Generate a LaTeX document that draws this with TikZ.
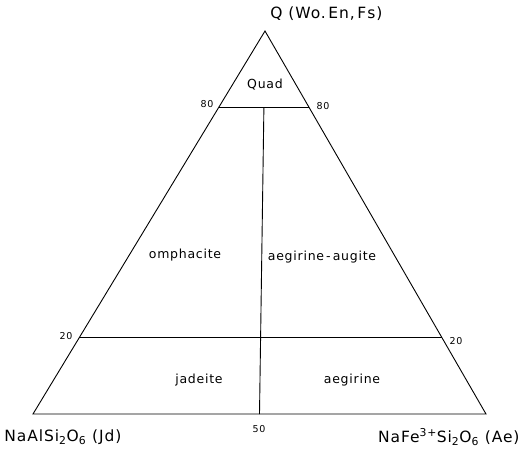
\documentclass[tikz,border=0pt]{standalone}
\usepackage{fontspec}
\setmainfont{DejaVu Sans}[LetterSpace=6]
\usetikzlibrary{calc}

\begin{document}
\begin{tikzpicture}[
x=1pt,y=-1pt,
every node/.style={
inner sep=0pt,
font=\fontsize{12.5}{14}\selectfont
},
endmember/.style={
font=\fontsize{15.5}{17}\selectfont
},
tick/.style={
font=\fontsize{9.5}{11}\selectfont
},
line width=0.9pt
]
\useasboundingbox (0,0) rectangle (523,451);

% corners of the triangle
\coordinate (Q) at (265,31);
\coordinate (Jd) at (33,414);
\coordinate (Ae) at (486,414);

% 80 and 20 lines, 50 on the base
\coordinate (L80) at ($(Jd)!0.8!(Q)$);
\coordinate (R80) at ($(Ae)!0.8!(Q)$);
\coordinate (L20) at ($(Jd)!0.2!(Q)$);
\coordinate (R20) at ($(Ae)!0.2!(Q)$);
\coordinate (B50) at ($(Jd)!0.5!(Ae)$);
\coordinate (T50) at ($(L80)!0.5!(R80)$);

\draw[line join=miter] (Q) -- (Jd) -- (Ae) -- cycle;
\draw (L80) -- (R80);
\draw (L20) -- (R20);
\draw (B50) -- (T50);

\node[endmember,anchor=west] (Qlab) at (270,14)
{Q (Wo.\,En,\,Fs)};

\node[endmember,anchor=west] (Jdlab) at (4,437)
{NaAlSi\textsubscript{2}O\textsubscript{6} (Jd)};

\node[endmember,anchor=east] (Aelab) at (520,437)
{NaFe\textsuperscript{3+}Si\textsubscript{2}O\textsubscript{6} (Ae)};

\node (Quad) at (265,85)
{Quad};

\node (Omph) at (185,255)
{omphacite};

\node (AegAug) at (322,257)
{aegirine\,-\,augite};

\node (Jade) at (199,380)
{jadeite};

\node (Aeg) at (352,380)
{aegirine};

\node[tick] (t80l) at (207,104) {80};
\node[tick] (t80r) at (323,106) {80};
\node[tick] (t20l) at (66,336) {20};
\node[tick] (t20r) at (456,341) {20};
\node[tick] (t50) at (259,429) {50};

\end{tikzpicture}
\end{document}
